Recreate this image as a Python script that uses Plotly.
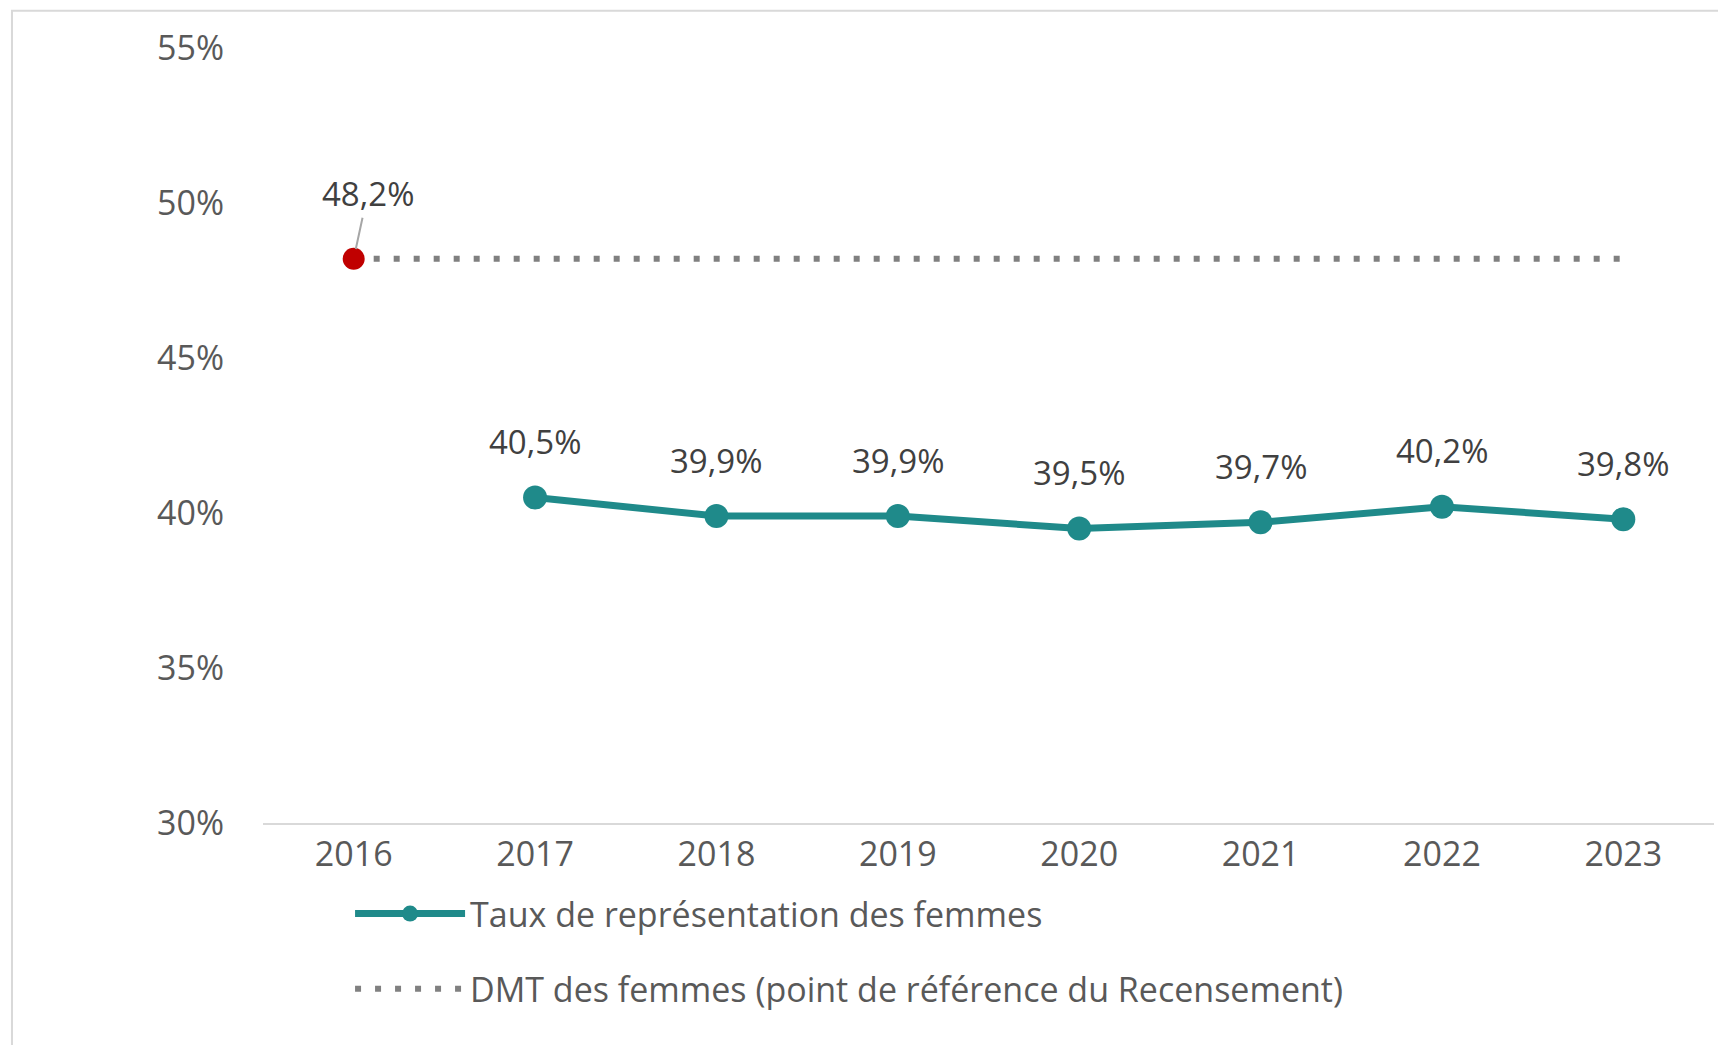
import plotly.graph_objects as go

years = [2016, 2017, 2018, 2019, 2020, 2021, 2022, 2023]
taux_years = [2017, 2018, 2019, 2020, 2021, 2022, 2023]
taux = [40.5, 39.9, 39.9, 39.5, 39.7, 40.2, 39.8]
dmt = [48.2] * 8
yticks = [30, 35, 40, 45, 50, 55]

def fr(v):
    return f"{v:.1f}".replace(".", ",") + "%"

teal = "#1F8A8A"
fig = go.Figure()
fig.add_trace(go.Scatter(x=taux_years, y=taux, mode="lines+markers",
    name="Taux de représentation des femmes", legendgroup="a",
    line=dict(color=teal, width=7), marker=dict(size=24, color=teal)))
fig.add_trace(go.Scatter(x=years, y=dmt, mode="lines", legendgroup="b",
    name="DMT des femmes (point de référence du Recensement)",
    line=dict(color="#808080", width=6, dash="6px,14px")))
fig.add_trace(go.Scatter(x=[years[0]], y=[dmt[0]], mode="markers", showlegend=False,
    marker=dict(size=22, color="#C00000")))

ann = []
for x, y in zip(taux_years, taux):
    ann.append(dict(x=x, y=y, text=fr(y), showarrow=False, yshift=56,
                    font=dict(size=33, color="#404040")))
ann.append(dict(x=years[0], y=dmt[0], text=fr(dmt[0]), showarrow=True,
                ax=14, ay=-65, arrowhead=0, arrowcolor="#A6A6A6", arrowwidth=2,
                standoff=10, font=dict(size=33, color="#404040")))

fig.update_layout(
    width=1726, height=1045, plot_bgcolor="white", paper_bgcolor="white",
    margin=dict(l=255, r=20, t=40, b=230),
    font=dict(family="Open Sans, DejaVu Sans", size=33, color="#595959"),
    xaxis=dict(tickvals=years, range=[2015.5, 2023.5], showgrid=False,
               showline=True, linecolor="#D9D9D9", linewidth=2, ticks="",
               tickfont=dict(size=34, color="#595959")),
    yaxis=dict(range=[30, 55], tickvals=yticks, ticktext=[f"{v}%" for v in yticks],
               showgrid=False, zeroline=False, ticks="", ticklabelstandoff=38,
               tickfont=dict(size=34, color="#595959")),
    legend=dict(x=0.06, y=-0.08, xanchor="left", yanchor="top",
                font=dict(size=34, color="#595959"), tracegroupgap=28,
                itemwidth=110),
    annotations=ann,
    shapes=[dict(type="rect", xref="paper", yref="paper",
                 x0=-0.173, x1=1.011, y0=-0.292, y1=1.048,
                 line=dict(color="#D9D9D9", width=2))],
)
fig.write_html("out.html")
